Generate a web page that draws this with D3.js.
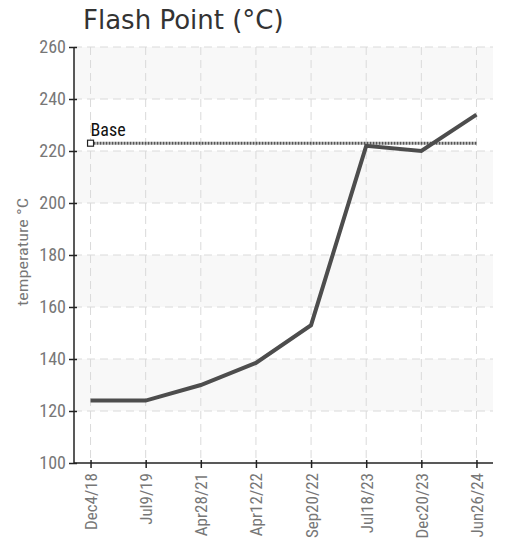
<!DOCTYPE html>
<html>
<head>
<meta charset="utf-8">
<script src="https://cdn.jsdelivr.net/npm/d3@7"></script>
<style>
  body { margin: 0; background: #fff; }
  .narrow { font-family: "Liberation Sans Narrow", "Roboto Condensed", "DejaVu Sans Condensed", sans-serif; font-stretch: condensed; }
</style>
</head>
<body>
<script>
const dates = ['Dec4/18', 'Jul9/19', 'Apr28/21', 'Apr12/22', 'Sep20/22', 'Jul18/23', 'Dec20/23', 'Jun26/24']
const flashPoint = [124, 124, 130, 138.5, 153, 222, 220, 234]
const baseValue = 223
const yTicks = [100, 120, 140, 160, 180, 200, 220, 240, 260]

const m = { width: 509, height: 543, left: 74, right: 16, top: 47, bottom: 80 }

const svg = d3.select('body').append('svg')
    .attr('width', m.width)
    .attr('height', m.height)

const x = d3.scalePoint()
    .domain(dates)
    .range([m.left, m.width - m.right])
    .padding(0.3)

const y = d3.scaleLinear()
    .domain([100, 260])
    .range([m.height - m.bottom, m.top])

// alternating bands
const bands = d3.pairs(yTicks).filter((d, i) => i % 2 == 1)
svg.selectAll('.band')
    .data(bands)
    .enter()
    .append('rect')
        .attr('x', m.left)
        .attr('y', d => y(d[1]))
        .attr('width', m.width - m.right - m.left)
        .attr('height', d => y(d[0]) - y(d[1]))
        .attr('fill', '#f8f8f8')

// grid
svg.selectAll('.hgrid')
    .data(yTicks.slice(1))
    .enter()
    .append('line')
        .attr('x1', m.left)
        .attr('x2', m.width - m.right)
        .attr('y1', d => y(d))
        .attr('y2', d => y(d))
        .attr('stroke', '#dadada')
        .attr('stroke-dasharray', '8,5')

svg.selectAll('.vgrid')
    .data(dates)
    .enter()
    .append('line')
        .attr('x1', d => x(d))
        .attr('x2', d => x(d))
        .attr('y1', m.top)
        .attr('y2', m.height - m.bottom)
        .attr('stroke', '#dadada')
        .attr('stroke-dasharray', '8,5')

// axes
const yAxis = svg.append('g')
    .attr('transform', `translate(${m.left},0)`)
    .call(d3.axisLeft(y).tickValues(yTicks).tickSize(5).tickPadding(3))
yAxis.select('.domain').attr('stroke', '#222').attr('stroke-width', 1.5).attr('d', `M0,${m.top}V${m.height - m.bottom}`)
yAxis.selectAll('.tick line').attr('stroke', '#222').attr('stroke-width', 1.5).attr('x2', 3).attr('x1', -5)
yAxis.selectAll('text')
    .attr('class', 'narrow')
    .attr('font-size', 18)
    .attr('fill', '#777')

const xAxis = svg.append('g')
    .attr('transform', `translate(0,${m.height - m.bottom})`)
    .call(d3.axisBottom(x).tickSize(5))
xAxis.select('.domain').attr('stroke', '#222').attr('stroke-width', 1.5).attr('d', `M${m.left},0H${m.width - m.right}`)
xAxis.selectAll('.tick line').attr('stroke', '#222').attr('stroke-width', 1.5).attr('y1', -3).attr('y2', 5)
xAxis.selectAll('text')
    .attr('class', 'narrow')
    .attr('font-size', 17)
    .attr('fill', '#777')
    .attr('text-anchor', 'end')
    .attr('transform', 'rotate(-90)')
    .attr('x', -10)
    .attr('y', 0)
    .attr('dy', '0.35em')

// axis label
svg.append('text')
    .attr('class', 'narrow')
    .attr('transform', `translate(28,252) rotate(-90)`)
    .attr('text-anchor', 'middle')
    .attr('font-size', 14)
    .attr('fill', '#777')
    .attr('textLength', 108)
    .attr('lengthAdjust', 'spacingAndGlyphs')
    .text('temperature °C')

// title
svg.append('text')
    .attr('x', 83)
    .attr('y', 29)
    .attr('font-family', 'DejaVu Sans, sans-serif')
    .attr('font-size', 26)
    .attr('fill', '#333')
    .text('Flash Point (°C)')

// base line
svg.append('line')
    .attr('x1', x(dates[0]))
    .attr('x2', x(dates[dates.length - 1]))
    .attr('y1', y(baseValue))
    .attr('y2', y(baseValue))
    .attr('stroke', '#555')
    .attr('stroke-width', 3)
    .attr('stroke-dasharray', '2,1')

svg.append('rect')
    .attr('x', x(dates[0]) - 3)
    .attr('y', y(baseValue) - 3)
    .attr('width', 6)
    .attr('height', 6)
    .attr('fill', '#fff')
    .attr('stroke', '#222')
    .attr('stroke-width', 1.2)

svg.append('text')
    .attr('class', 'narrow')
    .attr('x', x(dates[0]))
    .attr('y', y(baseValue) - 7)
    .attr('font-size', 18)
    .attr('fill', '#111')
    .text('Base')

// data line
const line = d3.line()
    .x((d, i) => x(dates[i]))
    .y(d => y(d))

svg.append('path')
    .datum(flashPoint)
    .attr('fill', 'none')
    .attr('stroke', '#4d4d4d')
    .attr('stroke-width', 4)
    .attr('d', line)
</script>
</body>
</html>
